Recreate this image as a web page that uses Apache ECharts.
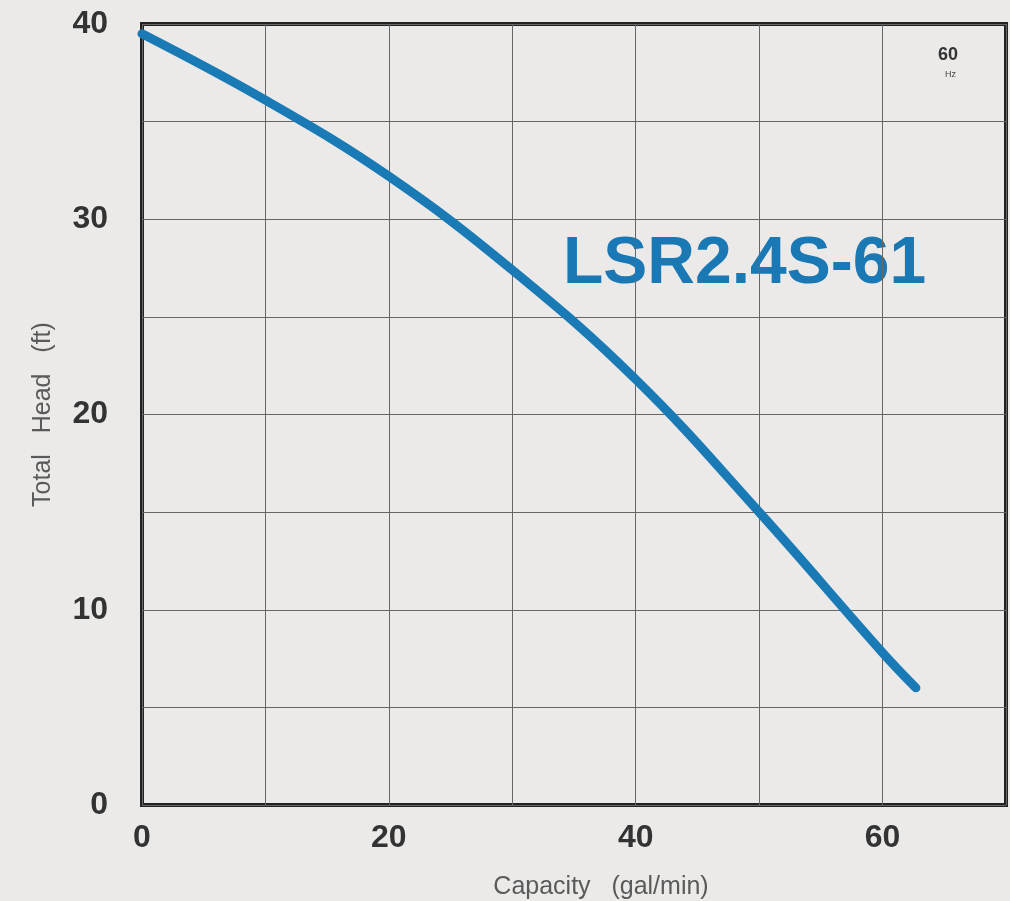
<!DOCTYPE html>
<html><head><meta charset="utf-8">
<script src="https://cdn.jsdelivr.net/npm/echarts@6/dist/echarts.min.js"></script>
<style>html,body{margin:0;padding:0;background:#ebeae8;}#c{width:1010px;height:901px;}</style>
</head><body><div id="c"></div>
<script>
const capacity = [0, 10, 20, 30, 40, 50, 60, 62.7];
const head =     [39.5, 36.1, 32.2, 27.4, 21.8, 15.0, 7.8, 6.0];
const xTickLabels = [0, 20, 40, 60];
const yTickLabels = [0, 10, 20, 30, 40];
const modelName = 'LSR2.4S-61';
const xTitle = 'Capacity   (gal/min)';
const yTitle = 'Total   Head   (ft)';

const chart = echarts.init(document.getElementById('c'));
chart.setOption({
  backgroundColor: '#ebeae8',
  animation: false,
  grid: { left: 142, right: 4, top: 24, bottom: 96, outerBoundsMode: 'none', containLabel: false,
          show: true, borderColor: '#222', borderWidth: 4, backgroundColor: 'transparent' },
  xAxis: {
    type: 'value', min: 0, max: 70, interval: 10,
    name: xTitle, nameLocation: 'middle', nameGap: 70,
    nameTextStyle: { fontFamily: 'Liberation Sans, Arial', fontSize: 25, color: '#5a5a5a', padding: [0, 0, 0, 54] },
    axisLine: { show: false }, axisTick: { show: false },
    splitLine: { show: true, lineStyle: { color: '#666', width: 1 } },
    axisLabel: {
      margin: 17, fontFamily: 'Liberation Sans, Arial', fontWeight: 'bold', fontSize: 32, color: '#333',
      formatter: v => xTickLabels.includes(v) ? String(v) : ''
    }
  },
  yAxis: {
    type: 'value', min: 0, max: 40, interval: 5,
    name: yTitle, nameLocation: 'middle', nameGap: 86, nameRotate: 90,
    nameTextStyle: { fontFamily: 'Liberation Sans, Arial', fontSize: 25, color: '#5a5a5a' },
    axisLine: { show: false }, axisTick: { show: false },
    splitLine: { show: true, lineStyle: { color: '#666', width: 1 } },
    axisLabel: {
      margin: 34, fontFamily: 'Liberation Sans, Arial', fontWeight: 'bold', fontSize: 32, color: '#333',
      formatter: v => yTickLabels.includes(v) ? String(v) : ''
    }
  },
  graphic: [
    { type: 'text', left: 563, top: 232, style: { text: modelName, fontFamily: 'Liberation Sans, Arial', fontWeight: 'bold', fontSize: 66, fill: '#1a78b4' } },
    { type: 'text', left: 938, top: 46, style: { text: '60', fontFamily: 'Liberation Sans, Arial', fontWeight: 'bold', fontSize: 18, fill: '#333' } },
    { type: 'text', left: 945, top: 70, style: { text: 'Hz', fontFamily: 'Liberation Sans, Arial', fontSize: 9, fill: '#444' } }
  ],
  series: [{
    type: 'line', smooth: 0.4, showSymbol: false,
    data: capacity.map((c, i) => [c, head[i]]),
    lineStyle: { color: '#1a7ab6', width: 9, cap: 'round' }
  }]
});
</script></body></html>
